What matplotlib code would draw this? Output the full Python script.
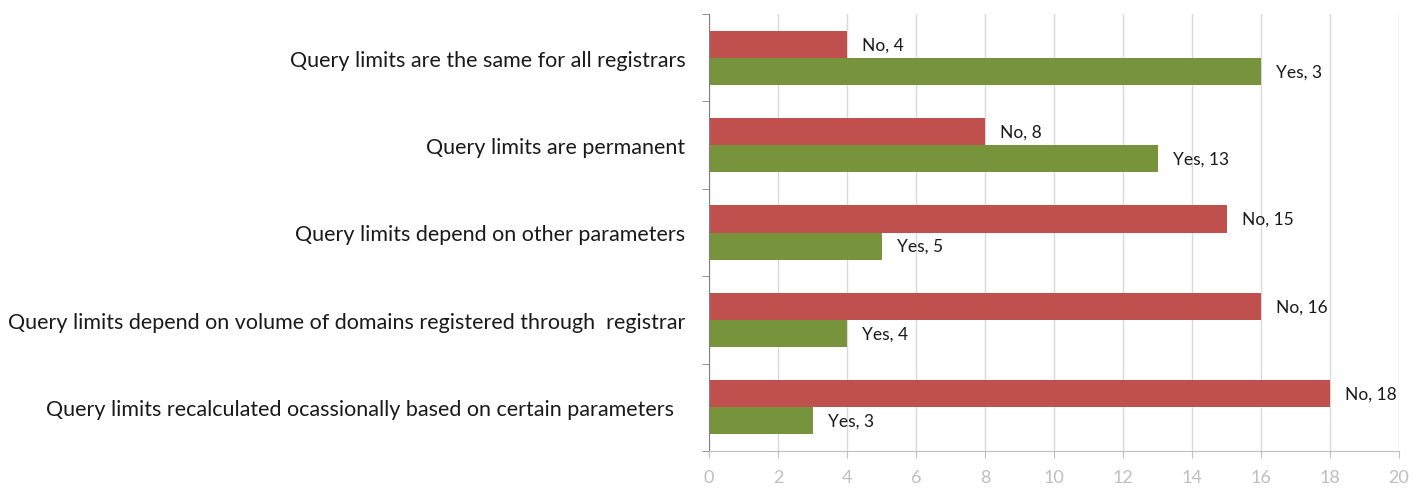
import matplotlib
matplotlib.use("Agg")
import matplotlib.pyplot as plt
import numpy as np

categories = [
    "Query limits are the same for all registrars",
    "Query limits are permanent",
    "Query limits depend on other parameters",
    "Query limits depend on volume of domains registered through  registrar",
    "Query limits recalculated ocassionally based on certain parameters  ",
]
no_values = [4, 8, 15, 16, 18]
yes_values = [16, 13, 5, 4, 3]
no_labels = ["No, 4", "No, 8", "No, 15", "No, 16", "No, 18"]
yes_labels = ["Yes, 3", "Yes, 13", "Yes, 5", "Yes, 4", "Yes, 3"]
x_ticks = [0, 2, 4, 6, 8, 10, 12, 14, 16, 18, 20]

plt.rcParams['font.family'] = ['Lato', 'DejaVu Sans']

fig = plt.figure(figsize=(14.13, 4.89), dpi=100)
ax = fig.add_axes([709/1413, 1-452/489, (1399-709)/1413, (452-15)/489])

red = "#c0504d"
green = "#77933c"
n = len(categories)
y = np.arange(n)
h = 0.31
ax.barh(y - h/2, no_values, height=h, color=red, edgecolor="none")
ax.barh(y + h/2, yes_values, height=h, color=green, edgecolor="none")

for i in range(n):
    ax.annotate(no_labels[i], (no_values[i], y[i] - h/2), xytext=(11, 0),
                textcoords="offset points", va="center", ha="left", fontsize=12.5, color="#1a1a1a")
    ax.annotate(yes_labels[i], (yes_values[i], y[i] + h/2), xytext=(11, 0),
                textcoords="offset points", va="center", ha="left", fontsize=12.5, color="#1a1a1a")

ax.set_ylim(n - 0.5, -0.5)
ax.set_xlim(0, 20)
ax.set_xticks(x_ticks)
ax.set_xticklabels([str(t) for t in x_ticks], color="#bfbfbf", fontsize=13)
ax.set_yticks(y)
ax.set_yticklabels(categories, fontsize=15.5, color="#1a1a1a")
ax.set_yticks(np.arange(n + 1) - 0.5, minor=True)
ax.tick_params(axis="y", which="major", length=0, pad=17)
ax.tick_params(axis="y", which="minor", length=5, color="#808080", direction="out")
ax.tick_params(axis="x", length=5, color="#bfbfbf", direction="out", pad=8)

ax.grid(axis="x", color="#d9d9d9", linewidth=1)
ax.set_axisbelow(True)
for s in ["top", "right"]:
    ax.spines[s].set_visible(False)
ax.spines["left"].set_color("#808080")
ax.spines["bottom"].set_color("#bfbfbf")

fig.savefig("out.png", dpi=100)
